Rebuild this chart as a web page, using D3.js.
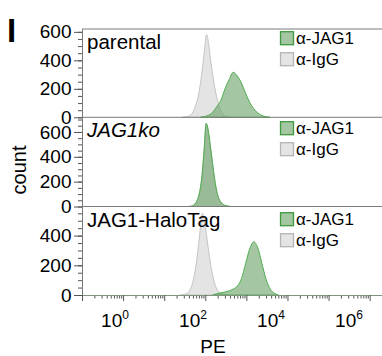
<!DOCTYPE html>
<html>
<head>
<meta charset="utf-8">
<script src="https://cdn.jsdelivr.net/npm/d3@7"></script>
<style>
  body { margin: 0; background: #fff; }
  svg { display: block; font-family: "Liberation Sans", Arial, sans-serif; }
</style>
</head>
<body>
<svg id="chart" width="382" height="356"></svg>
<script>
// panel names, y-axis maxima and tick values
const panelNames = ["parental", "JAG1ko", "JAG1-HaloTag"];
const panelYMax = [620, 718, 596];
const yMajorTicks = [0, 200, 400, 600];
const xLabelExponents = [0, 2, 4, 6];
const legendNames = ["\u03b1-JAG1", "\u03b1-IgG"];

// histograms: [log10(PE), count]
const parentalIgG = [[1.43,0],[1.53,3],[1.63,12],[1.73,55],[1.78,95],[1.83,150],[1.88,235],[1.93,340],[1.98,470],[2.03,580],[2.08,520],[2.13,400],[2.18,300],[2.23,210],[2.28,140],[2.33,85],[2.38,45],[2.43,22],[2.53,5],[2.63,0]];
const parentalJAG1 = [[1.88,0],[1.98,5],[2.08,15],[2.18,35],[2.28,75],[2.38,120],[2.48,200],[2.58,265],[2.68,316],[2.78,290],[2.88,240],[2.98,170],[3.08,105],[3.18,60],[3.28,30],[3.38,12],[3.48,4],[3.58,0]];
const koIgG = [[1.57,0],[1.67,3],[1.72,10],[1.77,28],[1.82,62],[1.87,125],[1.92,245],[1.97,440],[2.02,660],[2.07,600],[2.12,480],[2.17,350],[2.22,225],[2.27,130],[2.32,70],[2.37,36],[2.42,18],[2.52,5],[2.62,0]];
const koJAG1 = [[1.57,0],[1.67,4],[1.72,12],[1.77,30],[1.82,65],[1.87,130],[1.92,250],[1.97,450],[2.02,670],[2.07,620],[2.12,500],[2.17,370],[2.22,240],[2.27,140],[2.32,75],[2.37,40],[2.42,20],[2.52,6],[2.62,0]];
const haloIgG = [[1.38,0],[1.48,4],[1.58,15],[1.63,35],[1.68,70],[1.73,130],[1.78,210],[1.83,320],[1.88,450],[1.93,550],[1.98,500],[2.03,400],[2.08,300],[2.13,205],[2.18,130],[2.23,75],[2.28,40],[2.33,20],[2.43,6],[2.53,0]];
const haloJAG1 = [[2.18,0],[2.28,8],[2.38,15],[2.48,20],[2.58,28],[2.68,40],[2.78,60],[2.88,110],[2.98,210],[3.08,310],[3.18,359],[3.28,315],[3.38,210],[3.48,105],[3.58,40],[3.68,12],[3.78,0]];

const panelData = [
  { igg: parentalIgG, jag: parentalJAG1 },
  { igg: koIgG, jag: koJAG1 },
  { igg: haloIgG, jag: haloJAG1 }
];

const svg = d3.select("#chart");
const left = 82, right = 382;
const panelTops = [29, 117.3, 206.5];
const axisBottom = 295;

const green = "rgba(105,160,102,0.6)", greenStroke = "#4fae4f";
const grey = "#e4e4e4", greyStroke = "#c4c4c4";
const axisColor = "#7a7a7a";

const x = d3.scaleLog().domain([0.1, Math.pow(10, 6.3)]).range([left, right]);

panelNames.forEach((name, i) => {
  const top = panelTops[i];
  const bottom = i < 2 ? panelTops[i + 1] : axisBottom;
  const y = d3.scaleLinear().domain([0, panelYMax[i]]).range([bottom, top]);
  const g = svg.append("g");

  const area = d3.area()
    .x(d => x(Math.pow(10, d[0])))
    .y0(y(0))
    .y1(d => y(d[1]))
    .curve(d3.curveMonotoneX);

  g.append("path").attr("d", area(panelData[i].igg))
    .attr("fill", grey).attr("stroke", greyStroke).attr("stroke-width", 1);
  g.append("path").attr("d", area(panelData[i].jag))
    .attr("fill", green).attr("stroke", greenStroke).attr("stroke-width", 1);

  // top frame line
  g.append("line")
    .attr("x1", left).attr("x2", right).attr("y1", top).attr("y2", top)
    .attr("stroke", axisColor).attr("stroke-width", 1);

  // y axis: minor + major ticks
  const minor = d3.range(0, panelYMax[i], 50);
  const yMinor = g.append("g").attr("transform", `translate(${left},0)`)
    .call(d3.axisLeft(y).tickValues(minor).tickSize(4).tickSizeOuter(0).tickFormat(""));
  const yMajor = g.append("g").attr("transform", `translate(${left},0)`)
    .call(d3.axisLeft(y).tickValues(yMajorTicks.filter(v => v <= panelYMax[i]))
      .tickSize(8).tickSizeOuter(0).tickPadding(2.5));
  [yMinor, yMajor].forEach(a => {
    a.select(".domain").attr("stroke", axisColor);
    a.selectAll(".tick line").attr("stroke", "#555");
  });
  yMajor.selectAll(".tick text")
    .attr("font-size", 19).attr("fill", "#000")
    .attr("font-family", "Liberation Sans, Arial, sans-serif");

  // panel label
  g.append("text")
    .attr("x", 87).attr("y", top + 20)
    .attr("font-size", 20.5)
    .attr("font-style", i === 1 ? "italic" : "normal")
    .text(name);

  // legend
  const legendTop = top + [2.7, 4.4, 6.2][i];
  const legendRows = [{ fill: green, stroke: "#3f9a3f" }, { fill: grey, stroke: "#b4b4b4" }];
  legendRows.forEach((r, j) => {
    const ly = legendTop + j * 21;
    g.append("rect")
      .attr("x", 280.5).attr("y", ly).attr("width", 13).attr("height", 13)
      .attr("fill", r.fill).attr("stroke", r.stroke).attr("stroke-width", 1.3);
    g.append("text")
      .attr("x", 296).attr("y", ly + 12.5)
      .attr("font-size", 17)
      .text(legendNames[j]);
  });
});

// x axis
const xMajor = d3.range(-1, 7).map(k => Math.pow(10, k));
const xMinor = [];
d3.range(-1, 7).forEach(k => {
  for (let m = 2; m <= 9; m++) {
    const v = m * Math.pow(10, k);
    if (v <= x.domain()[1]) xMinor.push(v);
  }
});
const xMin = svg.append("g").attr("transform", `translate(0,${axisBottom})`)
  .call(d3.axisBottom(x).tickValues(xMinor).tickSize(3.5).tickSizeOuter(0).tickFormat(""));
const xMaj = svg.append("g").attr("transform", `translate(0,${axisBottom})`)
  .call(d3.axisBottom(x).tickValues(xMajor).tickSize(6).tickSizeOuter(0).tickFormat(""));
[xMin, xMaj].forEach(a => {
  a.select(".domain").attr("stroke", "#7f957f").attr("stroke-width", 1.2);
  a.selectAll(".tick line").attr("stroke", "#555");
});

// decade labels (placed slightly left of their ticks, as in the figure)
const labelX = d3.scaleLinear().domain([0, 6]).range([115, 349]);
xLabelExponents.forEach(e => {
  const t = svg.append("text")
    .attr("x", labelX(e)).attr("y", 326.5)
    .attr("text-anchor", "middle")
    .attr("font-size", 19);
  t.append("tspan").text("10");
  t.append("tspan").attr("font-size", 12).attr("dy", -8).text(e);
});

// axis titles
svg.append("text")
  .attr("x", 213).attr("y", 352.5)
  .attr("text-anchor", "middle")
  .attr("font-size", 19)
  .text("PE");

svg.append("text")
  .attr("transform", "translate(26,170) rotate(-90)")
  .attr("text-anchor", "middle")
  .attr("font-size", 20)
  .text("count");

// panel letter
svg.append("text")
  .attr("x", 7).attr("y", 42)
  .attr("font-size", 33)
  .attr("font-weight", "bold")
  .text("I");
</script>
</body>
</html>
